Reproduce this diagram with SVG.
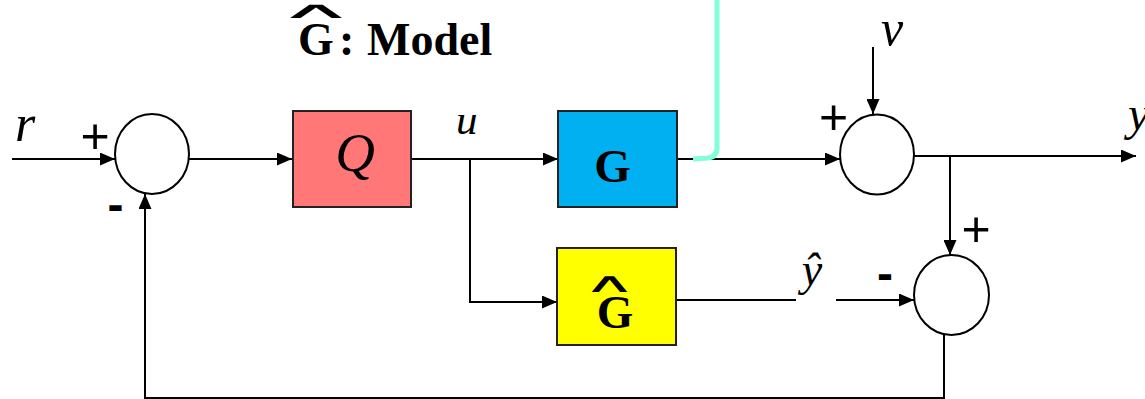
<svg xmlns="http://www.w3.org/2000/svg" width="1145" height="399" viewBox="0 0 1145 399">
<style>
.box{stroke:#222;stroke-width:2}
.sum{fill:#fff;stroke:#000;stroke-width:2}
.ln{fill:none;stroke:#000;stroke-width:2}
.it{font-family:"Liberation Serif",serif;font-style:italic;fill:#000}
.bd{font-family:"Liberation Serif",serif;font-weight:bold;fill:#000}
.sg{font-family:"Liberation Sans",sans-serif;fill:#000}
.hat{font-family:"DejaVu Sans",sans-serif;font-weight:200;fill:#000}
</style>
<defs>
<marker id="ah" markerUnits="userSpaceOnUse" markerWidth="15" markerHeight="13" refX="15" refY="6.5" orient="auto">
<path d="M0,0 L15,6.5 L0,13 z" fill="#000"/>
</marker>
</defs>
<rect width="1145" height="399" fill="#fff"/>

<g id="title">
<text class="hat" font-size="108" text-anchor="middle" transform="translate(315.5,18) scale(1,0.21)">∧</text>
<text class="bd" font-size="46" x="298" y="55">G</text>
<text class="bd" font-size="46" x="339" y="55">:</text>
<text class="bd" font-size="46" x="367" y="55">Model</text>
</g>

<g id="connectors">
<path class="ln" d="M12,159 H115" marker-end="url(#ah)"/>
<path class="ln" d="M189,159 H292" marker-end="url(#ah)"/>
<path class="ln" d="M411,159 H558" marker-end="url(#ah)"/>
<path class="ln" d="M470,159 V302 H557" marker-end="url(#ah)"/>
<path class="ln" d="M677,159 H840" marker-end="url(#ah)"/>
<path class="ln" d="M873,47 V114" marker-end="url(#ah)"/>
<path class="ln" d="M914,156 H1136" marker-end="url(#ah)"/>
<path class="ln" d="M950,156 V255" marker-end="url(#ah)"/>
<path class="ln" d="M676,300 H796"/>
<path class="ln" d="M836,300 H914" marker-end="url(#ah)"/>
<path class="ln" d="M944,335 V398 H145 V194" marker-end="url(#ah)"/>
<path d="M693,159 L708,158 Q717,157 717,148 V0" fill="none" stroke="#7FFFDA" stroke-width="5"/>
</g>

<g id="sum1">
<ellipse class="sum" cx="152" cy="154" rx="37" ry="40"/>
<text class="sg" font-size="50" x="95" y="153" text-anchor="middle">+</text>
<text class="sg" font-size="48" font-weight="bold" x="115.5" y="221" text-anchor="middle">-</text>
</g>

<g id="Q">
<rect class="box" x="293" y="111" width="118" height="96" fill="#FF7777"/>
<text class="it" font-size="55" x="355" y="171" text-anchor="middle">Q</text>
</g>

<g id="G">
<rect class="box" x="558" y="111" width="119" height="96" fill="#00B0F0"/>
<text class="bd" font-size="47" x="612.5" y="182" text-anchor="middle">G</text>
</g>

<g id="Ghat">
<rect class="box" x="557" y="248" width="119" height="97" fill="#FFFF00"/>
<text class="hat" font-size="74" text-anchor="middle" transform="translate(609,292) scale(1,0.36)">∧</text>
<text class="bd" font-size="47" x="615" y="328" text-anchor="middle">G</text>
</g>

<g id="sum2">
<ellipse class="sum" cx="877" cy="154.5" rx="37" ry="40"/>
<text class="sg" font-size="50" x="833.5" y="134" text-anchor="middle">+</text>
</g>

<g id="sum3">
<ellipse class="sum" cx="951.5" cy="295" rx="37.5" ry="40"/>
<text class="sg" font-size="50" x="976" y="246" text-anchor="middle">+</text>
<text class="sg" font-size="48" font-weight="bold" x="885" y="290" text-anchor="middle">-</text>
</g>

<g id="labels">
<text class="it" font-size="52" x="15" y="141">r</text>
<text class="it" font-size="43" x="456" y="134">u</text>
<text class="it" font-size="50" x="881" y="45">v</text>
<text class="it" font-size="48" x="1128" y="130">y</text>
<text class="it" font-size="46" x="812" y="285" text-anchor="middle" fill="#111">ŷ</text>
</g>
</svg>
